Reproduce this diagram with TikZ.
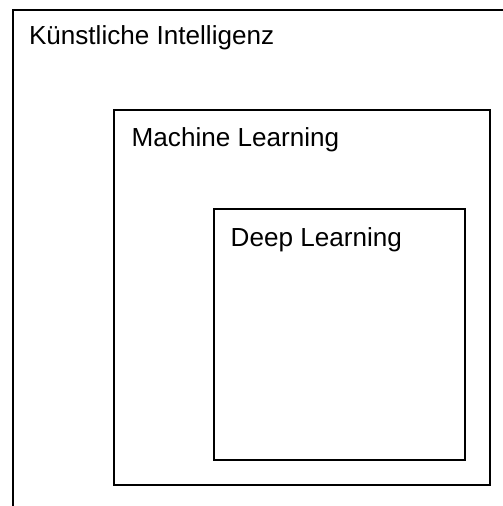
\documentclass[tikz,border=0pt]{standalone}
\usepackage{fontspec}
\setmainfont{Liberation Sans}
\usetikzlibrary{positioning}

\begin{document}
\begin{tikzpicture}[x=1bp,y=-1bp,line width=2bp,draw=black]
    \tikzstyle{area}=[rectangle,draw,inner sep=0pt,outer sep=0pt,anchor=north west]
    \tikzstyle{area label}=[inner sep=0pt,anchor=base west,font=\fontsize{26.2}{31}\selectfont]

    % Page frame, the outer box runs past it on the right and at the bottom
    \clip (0,0) rectangle (503,506);

    % Draw the nested areas
    \node[area,minimum width=540bp,minimum height=540bp] (KI) at (13,10) {};
    \node[area,minimum width=376bp,minimum height=375bp] (ML) at (113.7,110) {};
    \node[area,minimum width=251bp,minimum height=251bp] (DL) at (213.7,209.3) {};

    % Annotate the areas
    \node[area label] (KI-label) at ([xshift=15bp,yshift=-35bp]KI.north west) {Künstliche Intelligenz};
    \node[area label] (ML-label) at ([xshift=17bp,yshift=-37bp]ML.north west) {Machine Learning};
    \node[area label] (DL-label) at ([xshift=16bp,yshift=-37bp]DL.north west) {Deep Learning};
\end{tikzpicture}
\end{document}
